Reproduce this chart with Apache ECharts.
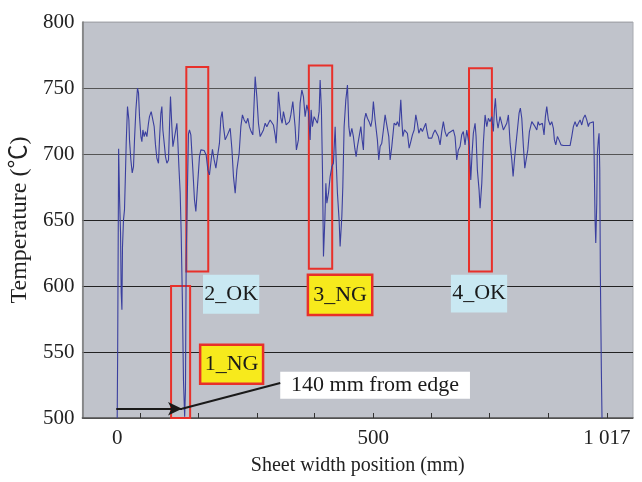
<!DOCTYPE html>
<html>
<head>
<meta charset="utf-8">
<script src="https://cdn.jsdelivr.net/npm/echarts@6/dist/echarts.min.js"></script>
<style>html,body{margin:0;padding:0;background:#fff}#c{width:642px;height:482px}</style>
</head>
<body>
<div id="c"></div>
<script>
// ---- data (sheet width position in mm, temperature in °C) ----
const positionMm = [
0,1,3,5,7,8.4,9.9,11.1,13.2,15.3,
16.8,18.9,21.6,24.5,25.8,28.7,31.5,34.2,36.3,39.2,
42.6,44.7,46.8,49.7,51.8,53.9,56.6,59.3,62.3,65.6,
67.7,71.3,74.9,77.6,80.3,83.2,86.6,88.7,91.6,93.7,
95.8,98.6,101.3,104.2,107.6,109.7,111.8,114.7,116.8,119.5,
122.3,125.2,127.3,129.4,132.1,134.2,136.7,139,141.5,143.2,
144.7,146.8,149.5,151.6,154.5,158.7,162.1,165,168.4,172.6,
175.5,182.4,186.6,190.2,193.5,197.1,199.8,203.4,207,210.3,
214.5,217.4,220.2,222.9,226.5,231.3,237,240.5,243.9,247.5,
251,255.8,259.4,262.7,266.3,270.5,274.1,277.4,281,284.5,
286.6,289.4,292.9,296.3,299.9,303.4,306.8,310.4,313.9,317.3,
320.8,324.4,327.7,331.3,333.4,336.1,338.2,340.3,343.3,346,
348.7,352.3,354.4,357.1,361.3,364.2,368.4,371.1,373.2,375.9,
380.1,383.7,387.3,390.7,394.2,397.8,401.1,404.7,406.8,409.5,
413.1,416.7,420,423.6,425.7,428.4,430.6,432.7,435.6,437.7,
439.8,443.2,446.7,450.3,453.6,457.2,459.3,462,465.5,467.6,
471.2,473.3,476,479.6,483,485.9,488.6,492.2,495.5,498.4,
501.2,503.9,508.1,511.1,513.8,516.5,518.6,521.6,524.9,528.4,
532,534.7,537.4,541,545.8,548.7,551.5,555,558.4,562,
565.5,569.7,572.5,576,580.8,585,587.8,591.3,594.9,597,
599.1,602.5,605.4,608.8,612.4,615.9,619.3,622.9,626.4,629.7,
632.7,636.8,640.2,643.8,647.3,649.4,652.8,659.9,663.3,666.8,
670.4,673.7,677.3,680.8,684.2,687.7,691.3,694.6,698.2,705.1,
708.7,712.3,715.6,719.2,722.7,726.1,729.7,733.3,736.6,738.7,
741.7,744.4,747.1,750.7,752.8,755.5,759.1,761.2,764.8,768.1,
771.7,775.3,778.6,782.2,785.7,789.1,791.2,793.3,796.2,798.9,
803.1,806.7,810.1,813.7,817.2,820.6,824.2,827.8,830.5,833.3,
836.7,839.5,843,845.7,848.7,852.1,855,857.8,861.3,864.7,
869.7,873.1,876.6,880.2,882.9,885.6,888.6,891.9,895.4,898.2,
901.1,904.5,908.1,911.6,915,917.1,920,923.4,926.8,931,
936,950,953.5,956.9,960.5,964,967.4,971,974.5,977.9,
981.5,985,988.4,990.5,993.4,998.9,1000.3,1002.4,1003.9,1006,
1007.2,1009.3,1010.8,1012.3,1013.5,1015.6,1017
];
const temperatureC = [
500,551.7,703.9,665.3,640.3,594.9,582,629.7,650.1,657.7,
678.1,708.4,735.9,725.8,710.7,695.5,685.7,690.5,710.7,733.4,
750,746.3,728.3,713.2,709.4,718.2,713.2,717,713.2,723.3,
728.3,732.1,730.9,720.7,706.9,696.8,693,710.7,730.9,735.9,
718.2,708.2,698,693,695.5,720.7,743.5,720.7,705.6,706.9,
717,723.3,708.4,690.5,670.6,640.3,589.6,529,501,521.4,
619.8,663,715.2,718.2,714.5,688,665.3,656.4,675.3,698,
703.1,702.6,699.3,688,684.2,695.5,703.6,695.5,689.3,698,
708.2,727.1,732.1,720.7,710.7,714.5,719.5,704.4,682.9,670.3,
688,700.6,720.7,729.6,725.8,723.3,727.1,720.7,717,714.5,
733.4,758.6,743.5,723.3,713.2,712,718.2,723.3,720.7,723.3,
725.8,725.8,722,714.5,708.2,725.8,747.2,738.5,727.1,723.3,
732.1,730.9,722,720.7,724.5,729.6,739.7,741,720.7,703.1,
710.7,738.5,748.5,743.5,728.3,737.2,732.1,710.7,733.4,720.7,
728.3,727.1,723.3,732.1,756.1,733.4,688,622.3,650.1,677.9,
662.8,670.3,682.9,690.5,693,720.7,695.5,670.3,650.1,629.9,
652.6,675.3,720.7,741,752.3,720.7,713.2,719.5,713.2,704.4,
698,705.6,714.5,720.7,710.7,703.1,725.8,730.9,727.1,724.5,
720.7,725.8,739.7,725.8,710.7,695.5,705.6,708.2,718.2,729.6,
722,713.2,695.5,705.6,723.3,722,724.5,720.7,741,725.8,
713.2,718.2,719.5,715.7,704.4,709.4,714.5,718.2,729.6,723.3,
715.7,719.5,717,718.2,723.3,718.2,712,712,715.7,718.2,
719.5,713.2,706.9,717,724.5,717,713.2,715.7,717,718.2,
713.2,695.5,703.1,705.6,714.5,717,706.9,718.2,719.5,705.6,
680.4,700.6,715.7,723.3,713.2,688,672.8,659,677.9,708.2,
729.6,720.7,727.1,724.5,728.3,717,733.4,742.2,725.8,719.5,
728.3,729.6,718.2,717,723.3,729.6,708.2,695.5,682.9,695.5,
708.2,718.2,730.9,734.7,727.1,705.6,689.3,695.5,703.1,717,
724.5,724.5,720.7,718.2,724.5,722,723.3,723.3,714.5,728.3,
735.9,725.8,722,724.5,719.5,710.7,706.9,713.2,710.7,706.9,
706.4,706.4,713.2,720.7,724.5,720.7,723.3,725.8,722,727.1,
729.6,725.8,720.7,723.3,724.5,724.5,703.1,650.1,632.5,662.8,
700.6,710.7,715.7,688,610,536.6,500
];

// ---- axis ticks / labels ----
const xTickPositions = [48, 170, 293.5, 413, 537, 658, 780, 903.5, 1027];
const xLabelPositions = [0, 537, 1027];
const xLabelTexts = ['0', '500', '1 017'];
const xAxisTitle = 'Sheet width position (mm)';
const yAxisTitle = 'Temperature (℃)';

// ---- annotations (data coordinates: [x1, y1, x2, y2]) ----
const redBoxes = [[113, 600, 153, 496], [145, 766, 191, 611], [402, 767, 451, 613], [738, 765, 786, 611]];
const tagTexts = ['2_OK', '3_NG', '4_OK', '1_NG'];
const tagKinds = ['ok', 'ng', 'ok', 'ng'];
const tagBoxes = [[180, 608.5, 298, 579], [400, 608.5, 535, 578], [700, 608.5, 818, 580], [174, 555.5, 306, 526]];
const noteText = '140 mm from edge';
const noteBox = [342, 535, 740, 514.6];
const arrowStart = [-2, 507];
const arrowEnd = [136, 507];
const leaderStart = [342, 526.5];

const SERIF = '"Liberation Serif", "Times New Roman", "Noto Sans CJK SC", serif';
const RED = '#e8302a';

const lineData = positionMm.map((x, i) => [x, temperatureC[i]]);

const areas = [];
redBoxes.forEach(b => {
  areas.push([
    {coord: [b[0], b[1]], itemStyle: {color: 'rgba(0,0,0,0)', borderColor: RED, borderWidth: 2}, label: {show: false}},
    {coord: [b[2], b[3]]}
  ]);
});
tagBoxes.forEach((b, i) => {
  const ng = tagKinds[i] === 'ng';
  areas.push([
    {coord: [b[0], b[1]], name: tagTexts[i],
     itemStyle: ng ? {color: '#f7ea1c', borderColor: RED, borderWidth: 2.5} : {color: '#c9e8f2', borderWidth: 0},
     label: {show: true, position: 'inside', formatter: tagTexts[i], fontFamily: SERIF, fontSize: 22, color: '#1a1a1a'}},
    {coord: [b[2], b[3]]}
  ]);
});
areas.push([
  {coord: [noteBox[0], noteBox[1]], itemStyle: {color: '#ffffff', borderWidth: 0},
   label: {show: true, position: 'inside', formatter: noteText, fontFamily: SERIF, fontSize: 22, color: '#1a1a1a'}},
  {coord: [noteBox[2], noteBox[3]]}
]);

const chart = echarts.init(document.getElementById('c'), null, {renderer: 'canvas'});
chart.setOption({
  animation: false,
  backgroundColor: '#ffffff',
  grid: {left: 82, right: 9, top: 22, bottom: 64, show: true, backgroundColor: '#c0c3cb', borderColor: '#a8aab0', borderWidth: 1},
  xAxis: {
    type: 'value', min: -73, max: 1082,
    name: xAxisTitle, nameLocation: 'middle', nameGap: 38,
    nameTextStyle: {fontFamily: SERIF, fontSize: 20, color: '#222'},
    axisLine: {show: true, onZero: false, lineStyle: {color: '#555', width: 1.5}},
    axisTick: {show: true, inside: true, length: 5, customValues: xTickPositions, lineStyle: {color: '#333'}},
    axisLabel: {show: true, customValues: xLabelPositions, margin: 10,
      formatter: v => { const i = xLabelPositions.indexOf(v); return i >= 0 ? xLabelTexts[i] : ''; },
      fontFamily: SERIF, fontSize: 21, color: '#222'},
    splitLine: {show: false}
  },
  yAxis: {
    type: 'value', min: 500, max: 800, interval: 50,
    name: yAxisTitle, nameLocation: 'middle', nameGap: 43, nameRotate: 90,
    nameTextStyle: {fontFamily: SERIF, fontSize: 24, color: '#222'},
    axisLine: {show: true, onZero: false, lineStyle: {color: '#7a7a7a', width: 1.5}},
    axisTick: {show: false},
    axisLabel: {margin: 8, fontFamily: SERIF, fontSize: 21, color: '#222'},
    splitLine: {show: true, lineStyle: {color: ['#444', '#222', '#222', '#222', '#555', '#555', '#a8aab0'], width: 1.2}}
  },
  series: [{
    type: 'line',
    data: lineData,
    showSymbol: false,
    symbol: 'none',
    clip: false,
    silent: true,
    lineStyle: {color: '#3a3f9f', width: 1.1},
    markArea: {silent: true, data: areas},
    markLine: {
      silent: true,
      symbol: ['none', 'none'],
      label: {show: false},
      lineStyle: {color: '#1a1a1a', width: 2, type: 'solid'},
      data: [
        [{coord: arrowStart, symbol: 'none'}, {coord: arrowEnd, symbol: 'arrow', symbolSize: [10, 14]}],
        [{coord: leaderStart, symbol: 'none'}, {coord: arrowEnd, symbol: 'none'}]
      ]
    }
  }]
});
</script>
</body>
</html>
